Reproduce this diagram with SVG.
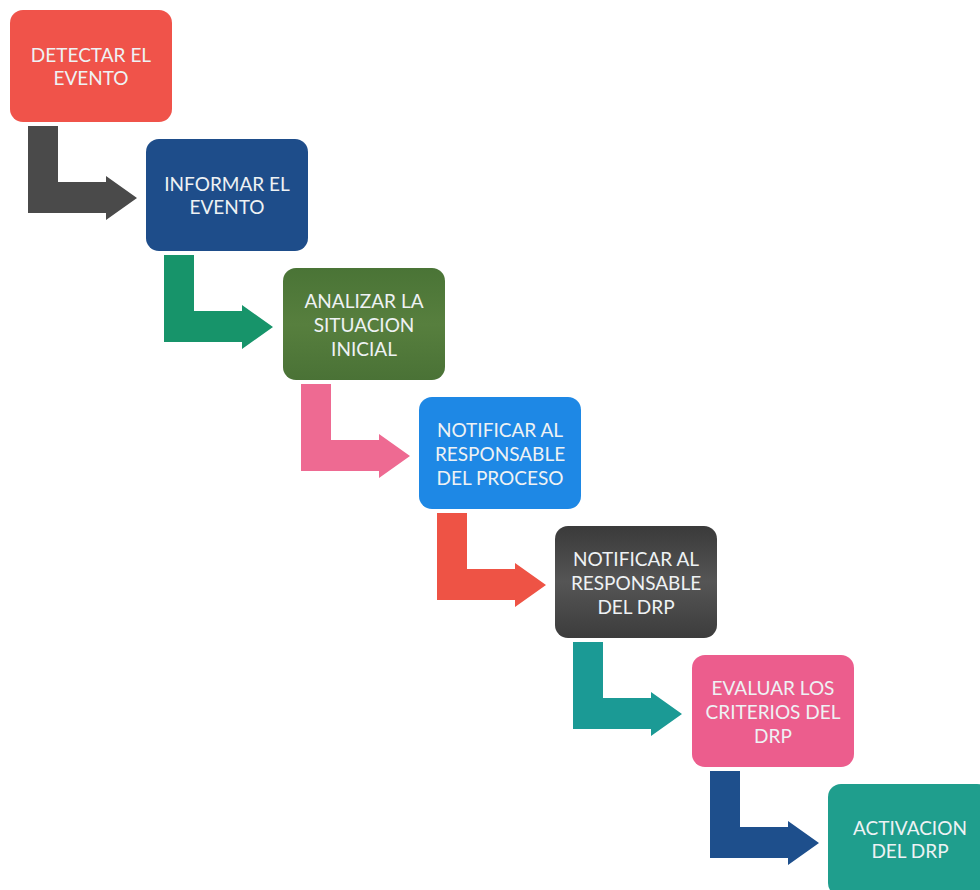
<svg xmlns="http://www.w3.org/2000/svg" width="980" height="890" viewBox="0 0 980 890">
<defs>
<style>
.box{stroke:none}
.t{font-family:Lato,"Open Sans","Liberation Sans",sans-serif;font-size:19px;fill:#eef2f4;text-anchor:middle}
</style>
<path id="larrow" d="M18,116 L48,116 L48,172 L96,172 L96,166 L127,188 L96,210 L96,203 L18,203 Z"/>
<linearGradient id="g5" x1="0" y1="0" x2="0" y2="1">
<stop offset="0" stop-color="#3a3a3a"/><stop offset="0.5" stop-color="#555555"/><stop offset="1" stop-color="#3c3c3c"/>
</linearGradient>
<linearGradient id="g3" x1="0" y1="0" x2="0" y2="1">
<stop offset="0" stop-color="#4a7436"/><stop offset="0.5" stop-color="#577f3e"/><stop offset="1" stop-color="#4a7236"/>
</linearGradient>
</defs>
<rect width="980" height="890" fill="#ffffff"/>
<g id="connectors">
<use href="#larrow" transform="translate(10,10)" fill="#4a4a4a"/>
<use href="#larrow" transform="translate(146,139)" fill="#17946a"/>
<use href="#larrow" transform="translate(283,268)" fill="#ee6a92"/>
<use href="#larrow" transform="translate(419,397)" fill="#ee5345"/>
<use href="#larrow" transform="translate(555,526)" fill="#1b9a95"/>
<use href="#larrow" transform="translate(692,655)" fill="#1e4f8c"/>
</g>
<g id="n1"><rect class="box" x="10" y="10" width="162" height="112" rx="13" fill="#f0534a"/>
<text class="t" x="91" y="62">DETECTAR EL</text><text class="t" x="91" y="85">EVENTO</text></g>
<g id="n2"><rect class="box" x="146" y="139" width="162" height="112" rx="13" fill="#1e4d8a"/>
<text class="t" x="227" y="191">INFORMAR EL</text><text class="t" x="227" y="214">EVENTO</text></g>
<g id="n3"><rect class="box" x="283" y="268" width="162" height="112" rx="13" fill="url(#g3)"/>
<text class="t" x="364" y="308">ANALIZAR LA</text><text class="t" x="364" y="332">SITUACION</text><text class="t" x="364" y="356">INICIAL</text></g>
<g id="n4"><rect class="box" x="419" y="397" width="162" height="112" rx="13" fill="#1e88e5"/>
<text class="t" x="500" y="437">NOTIFICAR AL</text><text class="t" x="500" y="461">RESPONSABLE</text><text class="t" x="500" y="485">DEL PROCESO</text></g>
<g id="n5"><rect class="box" x="555" y="526" width="162" height="112" rx="13" fill="url(#g5)"/>
<text class="t" x="636" y="566">NOTIFICAR AL</text><text class="t" x="636" y="590">RESPONSABLE</text><text class="t" x="636" y="614">DEL DRP</text></g>
<g id="n6"><rect class="box" x="692" y="655" width="162" height="112" rx="13" fill="#ec5d8d"/>
<text class="t" x="773" y="695">EVALUAR LOS</text><text class="t" x="773" y="719">CRITERIOS DEL</text><text class="t" x="773" y="743">DRP</text></g>
<g id="n7"><rect class="box" x="828" y="784" width="162" height="112" rx="13" fill="#1f9e8d"/>
<text class="t" x="910" y="835">ACTIVACION</text><text class="t" x="910" y="858">DEL DRP</text></g>
</svg>
